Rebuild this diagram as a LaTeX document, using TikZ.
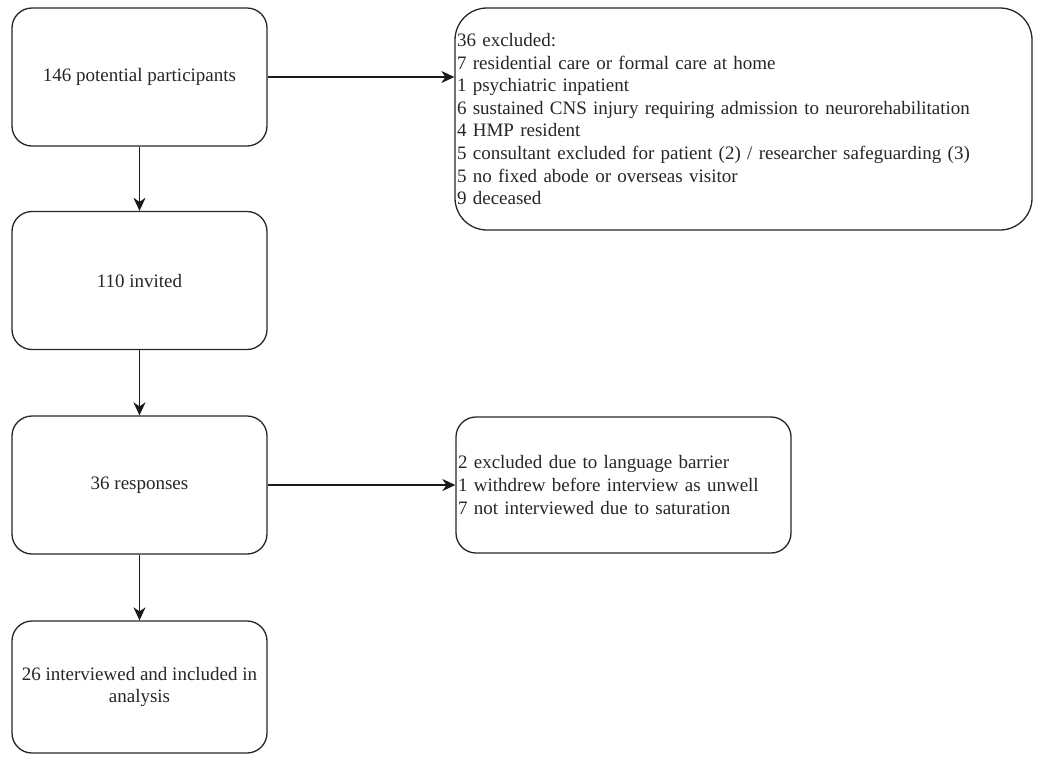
\documentclass[tikz,border=0pt]{standalone}
\usepackage{fontspec}
\setmainfont{Liberation Serif}
\usetikzlibrary{arrows.meta}
\begin{document}
\begin{tikzpicture}[x=1pt,y=-1pt,
  every node/.style={font=\fontsize{19}{22.6}\selectfont, text=black!85},
  box/.style={draw=black!85, line width=1.3pt, rounded corners=20pt, minimum width=255pt, minimum height=138pt, inner sep=0pt, align=center},
  sidebox/.style={draw=black!85, line width=1.3pt, inner xsep=2pt, inner ysep=0pt, align=left},
  arr/.style={draw=black!90, line width=1.3pt, -{Stealth[length=13pt,width=12pt,inset=4pt]}}]
\useasboundingbox (0,0) rectangle (1038,756);
\node[box] (p) at (139.5,77) {146 potential participants};
\node[box] (i) at (139.5,280.5) {110 invited};
\node[box] (r) at (139.5,485) {36 responses};
\node[box, minimum height=132pt] (a) at (139.5,687) {26 interviewed and included in\\analysis};
\node[sidebox, rounded corners=32pt, minimum height=222pt, text width=573pt] (e) at (743.5,119)
 {36 excluded:\\
 7 residential care or formal care at home\\
 1 psychiatric inpatient\\
 6 sustained CNS injury requiring admission to neurorehabilitation\\
 4 HMP resident\\
 5 consultant excluded for patient (2) / researcher safeguarding (3)\\
 5 no fixed abode or overseas visitor\\
 9 deceased};
\node[sidebox, rounded corners=20pt, minimum height=136pt, text width=331pt] (w) at (623.5,485)
 {2 excluded due to language barrier\\
 1 withdrew before interview as unwell\\
 7 not interviewed due to saturation};
\draw[arr] (p) -- (i);
\draw[arr] (i) -- (r);
\draw[arr] (r) -- (a);
\draw[arr] (p.east) -- (p.east -| e.west);
\draw[arr] (r.east) -- (r.east -| w.west);
\end{tikzpicture}
\end{document}
